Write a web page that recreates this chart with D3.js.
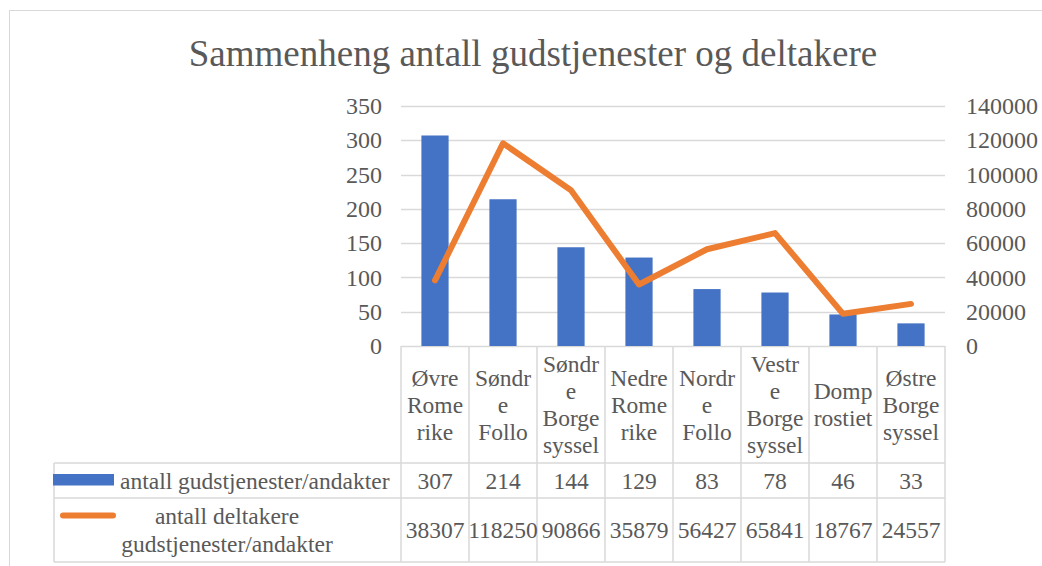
<!DOCTYPE html>
<meta charset="utf-8">
<style>
body { margin: 0; background: #fff; }
svg text { font-family: "Liberation Serif", "Times New Roman", serif; fill: #595959; }
</style>
<svg width="1042" height="566" id="chart"></svg>
<script src="https://d3js.org/d3.v7.min.js"></script>
<script>

var title = "Sammenheng antall gudstjenester og deltakere";
var categories = ["Øvre Romerike", "Søndre Follo", "Søndre Borgesyssel", "Nedre Romerike",
                  "Nordre Follo", "Vestre Borgesyssel", "Domprostiet", "Østre Borgesyssel"];
// how the category names wrap in the table header
var categoryLines = [["Øvre", "Rome", "rike"], ["Søndr", "e", "Follo"], ["Søndr", "e", "Borge", "syssel"],
                     ["Nedre", "Rome", "rike"], ["Nordr", "e", "Follo"], ["Vestr", "e", "Borge", "syssel"],
                     ["Domp", "rostiet"], ["Østre", "Borge", "syssel"]];
var gudstjenester = [307, 214, 144, 129, 83, 78, 46, 33];
var deltakere = [38307, 118250, 90866, 35879, 56427, 65841, 18767, 24557];
var seriesNames = [["antall gudstjenester/andakter"], ["antall deltakere", "gudstjenester/andakter"]];
var leftTicks = [0, 50, 100, 150, 200, 250, 300, 350];
var rightTicks = [0, 20000, 40000, 60000, 80000, 100000, 120000, 140000];

var blue = "#4472C4", orange = "#ED7D31", grid = "#D9D9D9";

var svg = d3.select("#chart");

var plotLeft = 401, plotRight = 945, plotTop = 106, plotBottom = 346;
var legendLeft = 54;
var rowBottoms = [463, 498, 562];

var x = d3.scaleBand().domain(categories).range([plotLeft, plotRight])
    .paddingInner(0.6).paddingOuter(0.3);
var step = x.step();
var yLeft = d3.scaleLinear().domain([0, 350]).range([plotBottom, plotTop]);
var yRight = d3.scaleLinear().domain([0, 140000]).range([plotBottom, plotTop]);

// chart frame
svg.append("rect")
    .attr("x", 9.5).attr("y", 10.5).attr("width", 1100).attr("height", 600)
    .attr("fill", "none").attr("stroke", grid);

svg.append("text")
    .attr("x", 533).attr("y", 66)
    .attr("text-anchor", "middle")
    .style("font-size", "37px")
    .text(title);

// gridlines
svg.append("g").selectAll("line")
    .data(leftTicks)
    .enter().append("line")
      .attr("x1", plotLeft).attr("x2", plotRight)
      .attr("y1", function(d) { return Math.round(yLeft(d)) + 0.5; })
      .attr("y2", function(d) { return Math.round(yLeft(d)) + 0.5; })
      .attr("stroke", grid).attr("stroke-width", 1.5);

// axes, no domain lines
var leftAxis = svg.append("g")
    .attr("transform", "translate(" + (plotLeft - 19) + ",0)")
    .call(d3.axisLeft(yLeft).tickValues(leftTicks).tickSize(0).tickPadding(0));
var rightAxis = svg.append("g")
    .attr("transform", "translate(" + (plotRight + 21) + ",0)")
    .call(d3.axisRight(yRight).tickValues(rightTicks).tickSize(0).tickPadding(0).tickFormat(d3.format("d")));
[leftAxis, rightAxis].forEach(function(a) {
  a.select(".domain").remove();
  a.selectAll("text")
      .style("font-size", "24px")
      .attr("fill", "#595959")
      .style("font-family", "Liberation Serif, serif");
});

// bars
svg.append("g").selectAll("rect")
    .data(gudstjenester)
    .enter().append("rect")
      .attr("x", function(d, i) { return x(categories[i]); })
      .attr("width", x.bandwidth())
      .attr("y", function(d) { return yLeft(d); })
      .attr("height", function(d) { return yLeft(0) - yLeft(d); })
      .attr("fill", blue);

// line
var line = d3.line()
    .x(function(d, i) { return x(categories[i]) + x.bandwidth() / 2; })
    .y(function(d) { return yRight(d); });

svg.append("path")
    .datum(deltakere)
    .attr("d", line)
    .attr("fill", "none")
    .attr("stroke", orange)
    .attr("stroke-width", 6)
    .attr("stroke-linejoin", "round")
    .attr("stroke-linecap", "round");

// data table
var table = svg.append("g");
var colEdges = d3.range(categories.length + 1).map(function(i) { return plotLeft + i * step; });

table.selectAll(".vcol")
    .data(colEdges)
    .enter().append("line")
      .attr("x1", function(d) { return d; }).attr("x2", function(d) { return d; })
      .attr("y1", plotBottom).attr("y2", rowBottoms[2])
      .attr("stroke", grid).attr("stroke-width", 1.5);

table.append("line")
    .attr("x1", legendLeft).attr("x2", legendLeft)
    .attr("y1", rowBottoms[0]).attr("y2", rowBottoms[2])
    .attr("stroke", grid).attr("stroke-width", 1.5);

table.selectAll(".hrow")
    .data(rowBottoms)
    .enter().append("line")
      .attr("x1", legendLeft).attr("x2", plotRight)
      .attr("y1", function(d) { return d; }).attr("y2", function(d) { return d; })
      .attr("stroke", grid).attr("stroke-width", 1.5);

var lineH = 27;
var headMid = (plotBottom + rowBottoms[0]) / 2;

table.selectAll(".cat")
    .data(categoryLines)
    .enter().append("text")
      .attr("text-anchor", "middle")
      .style("font-size", "23.5px")
      .each(function(lines, i) {
        var cx = x(categories[i]) + x.bandwidth() / 2;
        var y0 = headMid - (lines.length - 1) * lineH / 2 + 8;
        d3.select(this).selectAll("tspan")
            .data(lines)
            .enter().append("tspan")
              .attr("x", cx)
              .attr("y", function(d, j) { return y0 + j * lineH; })
              .text(function(d) { return d; });
      });

var row1Mid = (rowBottoms[0] + rowBottoms[1]) / 2;
var row2Mid = (rowBottoms[1] + rowBottoms[2]) / 2;

table.selectAll(".v1")
    .data(gudstjenester)
    .enter().append("text")
      .attr("text-anchor", "middle")
      .style("font-size", "23.5px")
      .attr("x", function(d, i) { return x(categories[i]) + x.bandwidth() / 2; })
      .attr("y", row1Mid + 8)
      .text(function(d) { return d; });

table.selectAll(".v2")
    .data(deltakere)
    .enter().append("text")
      .attr("text-anchor", "middle")
      .style("font-size", "23.5px")
      .attr("x", function(d, i) { return x(categories[i]) + x.bandwidth() / 2; })
      .attr("y", row2Mid + 8)
      .text(function(d) { return d; });

// legend keys
table.append("rect")
    .attr("x", 53).attr("y", 474).attr("width", 61).attr("height", 11.5)
    .attr("fill", blue);
table.append("line")
    .attr("x1", 63).attr("x2", 113).attr("y1", 515.5).attr("y2", 515.5)
    .attr("stroke", orange).attr("stroke-width", 6).attr("stroke-linecap", "round");

table.append("text")
    .attr("x", 120).attr("y", row1Mid + 8)
    .style("font-size", "23.5px")
    .text(seriesNames[0][0]);

table.append("text")
    .attr("text-anchor", "middle")
    .style("font-size", "23.5px")
    .selectAll("tspan")
    .data(seriesNames[1])
    .enter().append("tspan")
      .attr("x", 227)
      .attr("y", function(d, j) { return row2Mid - 14 + 8 + j * 28; })
      .text(function(d) { return d; });

</script>
